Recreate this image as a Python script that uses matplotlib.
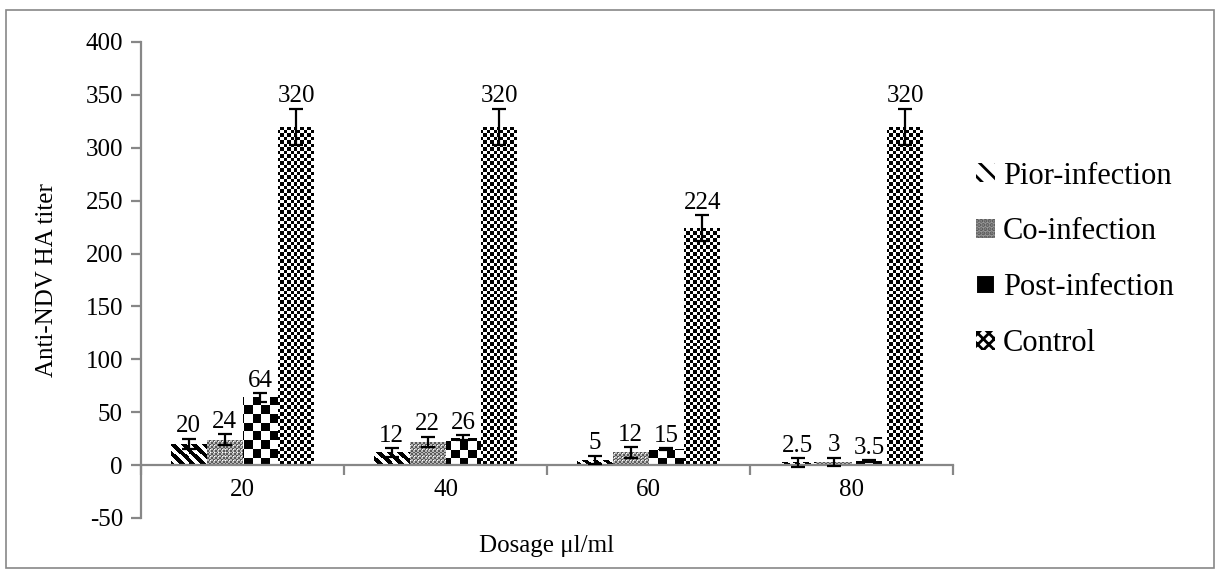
import numpy as np
import matplotlib
matplotlib.use('Agg')
import matplotlib.pyplot as plt
from matplotlib.patches import Rectangle, Patch

plt.rcParams['font.family'] = ['Liberation Serif', 'DejaVu Serif']
plt.rcParams['axes.unicode_minus'] = False
plt.rcParams['hatch.linewidth'] = 2.0

### data ###
dosage = ['20', '40', '60', '80']
series = ['Pior-infection', 'Co-infection', 'Post-infection', 'Control']
pior = [20, 12, 5, 2.5]
co = [24, 22, 12, 3]
post = [64, 26, 15, 3.5]
control = [320, 320, 224, 320]
pior_err = [5, 4, 4, 4]
co_err = [5, 5, 5, 4]
post_err = [4, 2, 1, 1]
control_err = [17, 17, 12, 17]
labels = [['20', '12', '5', '2.5'],
          ['24', '22', '12', '3'],
          ['64', '26', '15', '3.5'],
          ['320', '320', '224', '320']]

values = [pior, co, post, control]
errors = [pior_err, co_err, post_err, control_err]

W, H = 1219, 576
fig = plt.figure(figsize=(W / 100, H / 100), dpi=100)
ax = fig.add_axes([141 / W, 1 - 518 / H, (953 - 141) / W, (518 - 42) / H])

grey = '#878787'

# outer frame
fig.patches.append(Rectangle((6 / W, 1 - 568 / H), 1208 / W, 558 / H,
                             transform=fig.transFigure, fill=False,
                             ec=grey, lw=1.2))

x = np.arange(len(dosage))
bw = 0.177
offsets = (np.arange(4) - 1.5) * bw

ax.set_xlim(-0.5, 3.5)
ax.set_ylim(-50, 400)


# texture functions on absolute pixel grid (col, row)
def tex_pior(c, r):
    return np.where(((c - r) % 11) < 6, 0.0, 1.0)


def tex_co(c, r):
    chk = ((c // 2) + (r // 2)) % 2
    v = np.where(chk == 0, 0.35, 0.72)
    v = np.where((c % 4 == 1) & (r % 4 == 1), 1.0, v)
    return v


def tex_post(c, r):
    return np.where(((c // 9) + (r // 9)) % 2 == 0, 0.0, 1.0)


def tex_control(c, r):
    return np.where((np.floor(c / 3.5) + np.floor(r / 3.5)) % 2 == 0, 0.0, 1.0)


textures = [tex_pior, tex_co, tex_post, tex_control]

for i in range(4):
    bars = ax.bar(x + offsets[i], values[i], bw, color='none', ec='none',
                  zorder=2)
    for b in bars:
        x0, y0 = b.get_x(), b.get_y()
        x1, y1 = x0 + b.get_width(), y0 + b.get_height()
        (px0, py0), (px1, py1) = ax.transData.transform([(x0, y0), (x1, y1)])
        c0, c1 = int(np.floor(px0)), int(np.ceil(px1))
        r0, r1 = int(np.floor(H - py1)), int(np.ceil(H - py0))
        cc, rr = np.meshgrid(np.arange(c0, c1), np.arange(r0, max(r1, r0 + 1)))
        img = textures[i](cc, rr)
        im = ax.imshow(img, cmap='gray', vmin=0, vmax=1, interpolation='nearest',
                       aspect='auto', extent=(x0, x1, y0, y1), zorder=2)
        im.set_clip_path(b)
    ax.errorbar(x + offsets[i], values[i], yerr=errors[i], fmt='none',
                ecolor='black', elinewidth=1.6, capsize=5, capthick=1.6,
                zorder=3)
    for j in range(4):
        ax.annotate(labels[i][j], (x[j] + offsets[i], values[i][j] + errors[i][j]),
                    xytext=(0, 1), textcoords='offset points',
                    ha='center', va='bottom', fontsize=18)

ax.set_xlim(-0.5, 3.5)
ax.set_ylim(-50, 400)

# axes styling
for s in ['top', 'right']:
    ax.spines[s].set_visible(False)
ax.spines['left'].set_color(grey)
ax.spines['left'].set_linewidth(1.6)
ax.spines['bottom'].set_color(grey)
ax.spines['bottom'].set_linewidth(1.6)
ax.spines['bottom'].set_position(('data', 0))

ax.set_yticks(np.arange(-50, 401, 50))
ax.tick_params(axis='y', direction='out', length=7, width=1.6, color=grey,
               labelsize=18, pad=6)
ax.set_xticks(np.arange(-0.5, 3.6, 1.0))
ax.set_xticklabels([])
ax.tick_params(axis='x', which='major', direction='out', length=7, width=1.6,
               color=grey)
ax.set_xticks(x, minor=True)
ax.set_xticklabels(dosage, minor=True)
ax.tick_params(axis='x', which='minor', length=0, labelsize=18, pad=10)

ax.set_ylabel('Anti-NDV HA titer', fontsize=18, labelpad=20)
ax.set_xlabel('Dosage μl/ml', fontsize=18)
ax.xaxis.set_label_coords(0.5, -0.035)

# legend
handles = [Patch(fc='white', ec='black', lw=0, hatch='\\\\'),
           Patch(fc='#9a9a9a', ec='#555555', lw=0, hatch='....'),
           Patch(fc='black', ec='white', lw=1.5),
           Patch(fc='white', ec='black', lw=0, hatch='xxx')]
fig.legend(handles, series, loc='upper left', bbox_to_anchor=(948 / W, 1 - 134 / H),
           frameon=False, fontsize=22, handlelength=0.65, handleheight=0.55,
           handletextpad=0.25, labelspacing=0.88)

fig.savefig('out.png', dpi=100)
